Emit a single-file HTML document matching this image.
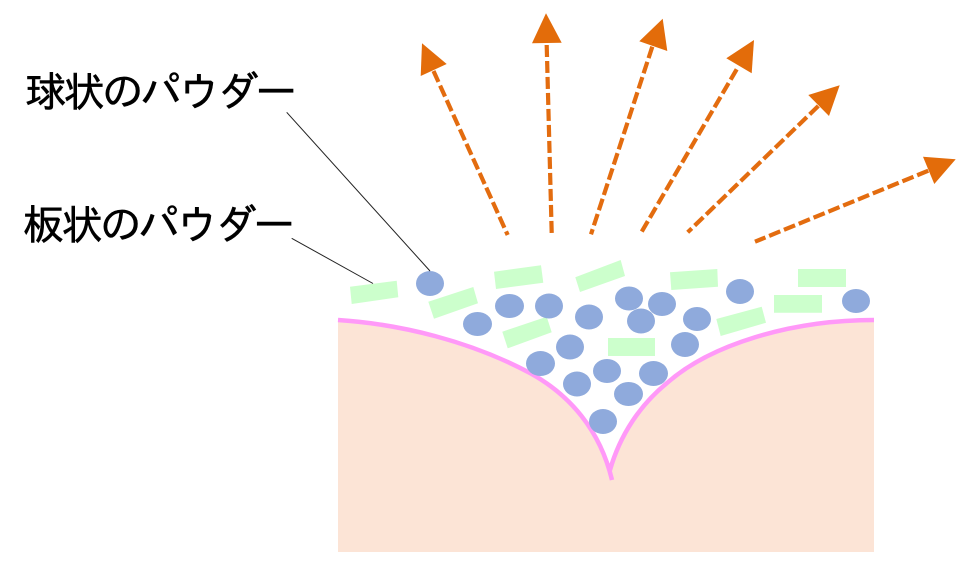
<!DOCTYPE html>
<html><head><meta charset="utf-8"><style>
html,body{margin:0;padding:0;background:#fff}
svg{display:block}
text{font-family:"IPAGothic","Noto Sans CJK JP",sans-serif;font-size:41.5px;fill:#000;stroke:#000;stroke-width:.55px}
</style></head><body>
<svg width="971" height="570" viewBox="0 0 971 570" xmlns="http://www.w3.org/2000/svg">
<rect width="971" height="570" fill="#fff"/>
<path d="M338 320 C400 324 470 341 530 373 C570 395 600 430 610 470 C620 435 640 405 667 383 C710 345 790 320 874 320 L874 552 L338 552 Z" fill="#fce4d6"/>
<path d="M338 320 C400 324 470 341 530 373 C570 395 600 430 612 480 M610 470 C620 435 640 405 667 383 C710 345 790 320 874 320" fill="none" stroke="#ff99f8" stroke-width="4.5"/>
<g fill="#ccffcc">
<polygon points="350,286.7 396.7,280.7 398.3,297.3 351.7,304"/>
<polygon points="428.3,301.7 473.3,287 478,303.3 434,318.7"/>
<polygon points="494,271.7 541,265.3 543.3,282.7 496,289"/>
<polygon points="575.3,277.3 620.7,260 625,276 580,292"/>
<polygon points="502.3,331.7 546.7,316.7 551.7,332.3 507.7,348.3"/>
<polygon points="608,338 655,338 655,356 608,356"/>
<polygon points="670,272.3 717.3,269 718,286.7 671.3,290"/>
<polygon points="716.3,319 761.7,306.7 766,322.7 720.7,336"/>
<polygon points="774,295 822,295 822,312.7 774,312.7"/>
<polygon points="798,269 846,269 846,287 798,287"/>
</g>
<g fill="#8faadc">
<ellipse cx="430" cy="283.5" rx="14" ry="12.5"/>
<ellipse cx="477.5" cy="324" rx="14.5" ry="12"/>
<ellipse cx="509.5" cy="306" rx="14.5" ry="12"/>
<ellipse cx="549" cy="306" rx="14" ry="12.5"/>
<ellipse cx="589" cy="317" rx="14" ry="12.5"/>
<ellipse cx="570" cy="347" rx="14" ry="12.5"/>
<ellipse cx="540.5" cy="363.5" rx="14.5" ry="12.5"/>
<ellipse cx="577" cy="384" rx="14" ry="12.5"/>
<ellipse cx="607" cy="371" rx="14" ry="12"/>
<ellipse cx="603" cy="421.5" rx="14" ry="12.5"/>
<ellipse cx="629" cy="298.5" rx="14" ry="12"/>
<ellipse cx="662" cy="304" rx="14" ry="12"/>
<ellipse cx="641" cy="321" rx="14" ry="12.5"/>
<ellipse cx="697" cy="319" rx="14" ry="12"/>
<ellipse cx="740" cy="291.5" rx="14" ry="12.5"/>
<ellipse cx="856" cy="301" rx="14" ry="12"/>
<ellipse cx="685" cy="344.5" rx="14" ry="12.5"/>
<ellipse cx="653.5" cy="373.5" rx="14.5" ry="12.5"/>
<ellipse cx="628.5" cy="394" rx="14.5" ry="12"/>
</g>
<g stroke="#222" stroke-width="1" fill="none">
<line x1="286.7" y1="112.3" x2="430" y2="271"/>
<line x1="291.7" y1="238.3" x2="373" y2="283.5"/>
</g>
<g stroke="#e36c0f" stroke-width="4.2" stroke-dasharray="12 4" fill="none">
<line x2="507.7" y2="235" x1="433.5" y1="71"/>
<line x2="551.7" y2="233" x1="546.7" y1="45"/>
<line x2="591" y2="234.3" x1="652.3" y1="46.7"/>
<line x2="641.7" y2="231.7" x1="736.7" y1="69.3"/>
<line x2="687.7" y2="232.3" x1="818.3" y1="106"/>
<line x2="755" y2="241.7" x1="928.3" y1="170.7"/>
</g>
<g fill="#e36c0a">
<polygon points="422,43.3 446.7,64 420.7,76"/>
<polygon points="546,13.3 532,43.3 561.7,42.7"/>
<polygon points="662.7,18.7 639.3,41.3 667.3,51"/>
<polygon points="754,40 726.3,58.3 751.7,73.3"/>
<polygon points="839.7,85.3 808.3,95 829,116"/>
<polygon points="955.7,159.3 923,156.7 934.3,184"/>
</g>
<text x="25" y="106.5" textLength="272" lengthAdjust="spacing">球状のパウダー</text>
<text x="23" y="239.5" textLength="272" lengthAdjust="spacing">板状のパウダー</text>
</svg>
</body></html>
